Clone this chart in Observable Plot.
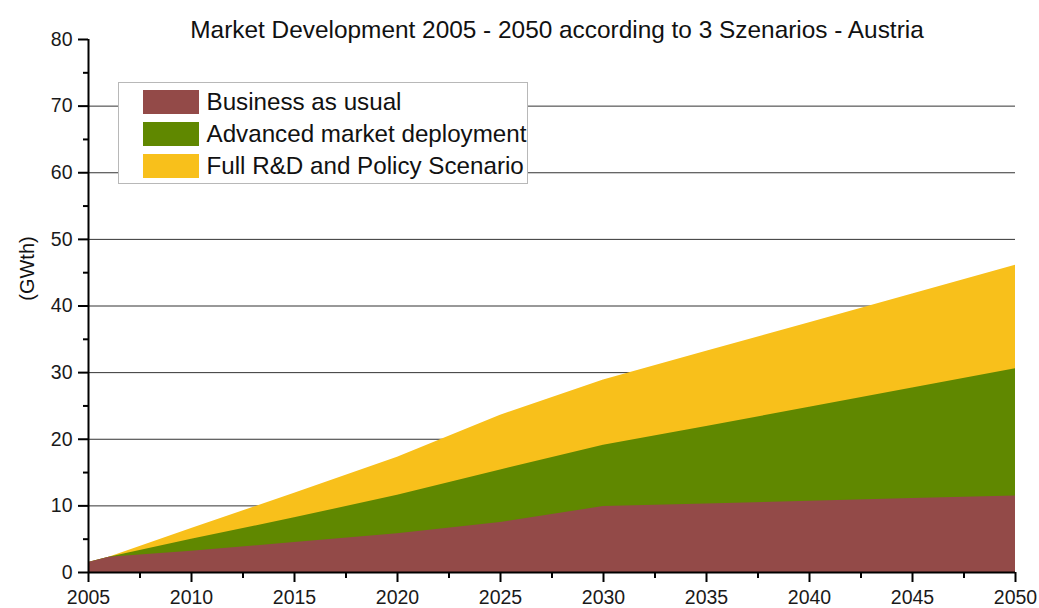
<!DOCTYPE html>
<html><head><meta charset="utf-8">
<script src="https://cdn.jsdelivr.net/npm/d3@7"></script>
<script src="https://cdn.jsdelivr.net/npm/@observablehq/plot@0.6"></script>
<style>
body{margin:0;background:#fff;}
#wrap{position:relative;width:1039px;height:608px;overflow:hidden;font-family:"Liberation Sans",Arial,Helvetica,sans-serif;}
#legend{position:absolute;left:118px;top:82px;width:410px;height:102px;border:1px solid #b8b8b8;background:#fff;box-sizing:border-box;}
.row{position:absolute;left:24px;height:24px;display:flex;align-items:center;white-space:nowrap;}
.sw{width:56px;height:24px;margin-right:7.5px;flex:none;}
.lbl{font-size:24.2px;line-height:24px;color:#111;}
</style></head><body><div id="wrap"><div id="chart"></div><div id="legend"></div></div>
<script>
const title = "Market Development 2005 - 2050 according to 3 Szenarios - Austria";
const yLabel = "(GWth)";
const seriesNames = ["Business as usual", "Advanced market deployment", "Full R&D and Policy Scenario"];
const seriesColors = ["#934A48", "#608800", "#F8C01B"];
const years = [2005, 2006, 2010, 2015, 2020, 2025, 2030, 2035, 2040, 2045, 2050];
const businessAsUsual = [1.5, 2.3, 3.2, 4.5, 5.8, 7.5, 9.9, 10.3, 10.7, 11.1, 11.5];
const advancedMarket = [1.5, 2.3, 5.0, 8.2, 11.6, 15.4, 19.1, 21.9, 24.8, 27.7, 30.6];
const fullRD = [1.5, 2.3, 6.6, 11.9, 17.3, 23.6, 28.9, 33.2, 37.5, 41.8, 46.1];
const yTicks = [0, 10, 20, 30, 40, 50, 60, 70, 80];
const yMinorTicks = [5, 15, 25, 35, 45, 55, 65, 75];
const yGrid = [10, 20, 30, 40, 50, 60, 70];
const xTicks = [2005, 2010, 2015, 2020, 2025, 2030, 2035, 2040, 2045, 2050];
const xMinorTicks = [2007.5, 2012.5, 2017.5, 2022.5, 2027.5, 2032.5, 2037.5, 2042.5, 2047.5];

const toRows = (vals) => years.map((year, i) => ({year, value: vals[i]}));

const chart = Plot.plot({
  width: 1039,
  height: 608,
  marginLeft: 88,
  marginRight: 24,
  marginTop: 39,
  marginBottom: 36,
  x: {domain: [2005, 2050]},
  y: {domain: [0, 80]},
  style: {fontFamily: '"Liberation Sans", Arial, Helvetica, sans-serif', fontSize: "19.5px", color: "#1a1a1a", background: "white"},
  marks: [
    Plot.gridY(yGrid, {stroke: "#333", strokeOpacity: 1, strokeWidth: 1}),
    Plot.areaY(toRows(fullRD), {x: "year", y: "value", fill: seriesColors[2]}),
    Plot.areaY(toRows(advancedMarket), {x: "year", y: "value", fill: seriesColors[1]}),
    Plot.areaY(toRows(businessAsUsual), {x: "year", y: "value", fill: seriesColors[0]}),
    Plot.ruleX([2005], {y1: 0, y2: 80, stroke: "black", strokeWidth: 2}),
    Plot.ruleY([0], {stroke: "black", strokeWidth: 2}),
    Plot.axisY(yTicks, {tickSize: 10, tickPadding: 6, strokeWidth: 2, stroke: "black", tickFormat: d3.format("d"), label: null}),
    Plot.axisY(yMinorTicks, {tickSize: 5, text: null, strokeWidth: 2, stroke: "black", label: null}),
    Plot.axisX(xTicks, {tickSize: 10, tickPadding: 8, strokeWidth: 2, stroke: "black", tickFormat: d3.format("d"), label: null}),
    Plot.axisX(xMinorTicks, {tickSize: 6, text: null, strokeWidth: 2, stroke: "black", label: null}),
    Plot.text([title], {frameAnchor: "top", lineAnchor: "bottom", dx: 5, dy: -2, fontSize: 24.4, fill: "#111"}),
    Plot.text([yLabel], {frameAnchor: "left", rotate: -90, textAnchor: "middle", lineAnchor: "middle", dx: -61, dy: -37.5, fontSize: 20, fill: "#111"})
  ]
});
document.getElementById("chart").appendChild(chart);

const legend = document.getElementById("legend");
seriesNames.forEach((name, i) => {
  const row = document.createElement("div");
  row.className = "row";
  row.style.top = (6.5 + i * 32.3) + "px";
  const sw = document.createElement("div");
  sw.className = "sw";
  sw.style.background = seriesColors[i];
  const lbl = document.createElement("span");
  lbl.className = "lbl";
  lbl.textContent = name;
  row.appendChild(sw);
  row.appendChild(lbl);
  legend.appendChild(row);
});
</script></body></html>
